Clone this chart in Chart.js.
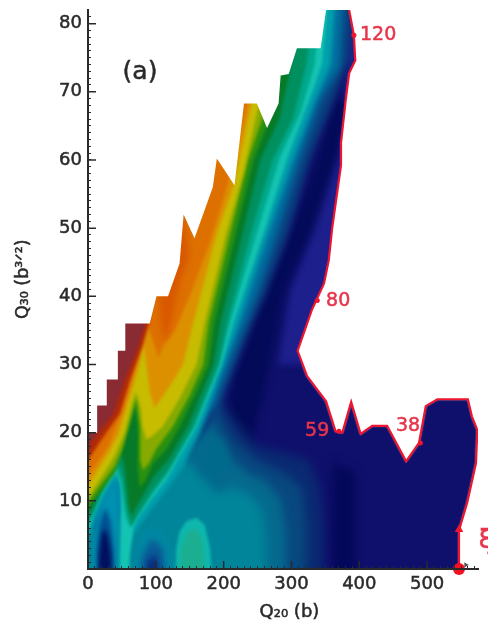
<!DOCTYPE html>
<html>
<head>
<meta charset="utf-8">
<style>
html, body { margin: 0; padding: 0; background: #fff; }
#wrap { width: 488px; height: 626px; }
canvas { filter: blur(0.6px); }
</style>
<script src="https://cdn.jsdelivr.net/npm/chart.js@4/dist/chart.umd.min.js"></script>
</head>
<body>
<div id="wrap"><canvas id="c" width="488" height="626"></canvas></div>
<script>
// tick labels
const xTickLabels = [0, 100, 200, 300, 400, 500];
const yTickLabels = [10, 20, 30, 40, 50, 60, 70, 80];

// edge of the calculated region as [Q20, Q30]
const boundaryLeft = [[0,20],[13.5,20],[13.5,24],[27.7,24],[27.7,27.8],[44,27.8],[44,32],[55,32],[55,36],[91,36],[101,40],[118,40],[135,44.8],[141,52],[157,48.5],[184,56],[190,60.2],[216,56.3],[230,68.3],[249,68.3],[264,64.7],[281,68.3],[284,72.4],[296,72.6],[308,76.4],[343,76.4],[351,82],[352,95]];
const boundaryRight = [[385,95],[385,82],[392,78.3],[394,74.6],[385,72.7],[380,68.8],[373,62.5],[373,59.2],[360,50],[355,45.3],[348,41.9],[330,38],[323,36],[309,32],[323,28.3],[351,24.6],[365,20.2],[375,20],[388,24.5],[402,19.8],[419,21],[441,21],[469,15.8],[488,18.5],[498,23.9],[515,24.9],[560,24.9],[566,22.4],[574,20.4],[572,15.5],[559,9.7],[547,5.7],[547,0]];

// low areas on the right
const blueWedge = [[280,30],[410,30],[410,90],[395,90],[372,62],[334,50],[298,41]];
const darkStrip = [[360,-5],[395,-5],[395,14],[360,16]];
const darkTrough = [[200,18],[235,16],[262,27],[288,40.5],[327,49.3],[366,60.4],[385,68.8],[365,68.8],[340,60.4],[299,49.3],[260,40.5],[215,28]];

// lower field, darkest first
const field1 = [[-10,-5],[345,-5],[347,6],[342,12],[325,16],[290,17],[250,18],[215,22],[190,26],[170,30],[-10,30]];
const field2 = [[-10,-5],[320,-5],[322,6],[315,12],[290,14],[250,16],[215,19],[190,24],[-10,30]];
const field3 = [[-10,-5],[290,-5],[292,5],[285,10],[260,13],[235,14],[214,16],[190,20],[170,26],[-10,30]];
const field4 = [[-10,-5],[262,-5],[262,5],[255,9],[235,11],[214,12],[190,11],[165,14],[-10,30]];
const fieldPatch = [[168,14],[185,13],[205,15],[200,19],[176,19]];

// contour levels, rising towards the upper left
const level1 = [[-10,5],[100,12],[190,22],[195,24],[218,30],[242,36],[262,40.5],[295,49.3],[328,60.4],[362,68.8],[386,75],[400,95],[-10,95]];
const level2 = [[-10,5],[100,11],[170,22],[186,24],[208,30],[232,36],[250,40.5],[279,49.3],[313,60.4],[343,68.8],[372,73.7],[382,95],[-10,95]];
const level3 = [[-10,4],[5,5],[10,7],[24,10],[38,12.5],[44,13],[47,11],[60,4],[70,5.5],[95,9],[115,11.5],[140,15],[165,20],[200,30],[222,36],[268,50],[302,60],[336,69],[358,74],[372,95],[-10,95]];
const level4 = [[-10,5.5],[3,6],[8,8],[22,11],[37,13.6],[44,14],[48,11.5],[47,7],[45,-5],[59,-5],[62,2],[67,6],[72,7.3],[95,10.5],[115,13],[160,20.9],[197,30],[214,36],[259,49.3],[294,60.4],[326,68.8],[345,74],[365,95],[-10,95]];
const level5 = [[-10,6.3],[3,6.8],[10,9],[27,12.5],[41,14.8],[48,13],[56,7.5],[63,6],[72,7.6],[95,11],[116,13.8],[157,20.9],[194,30],[209,36],[249,49.3],[283,60.4],[314,67],[334,74],[355,95],[-10,95]];
const level6 = [[-10,7],[4,7.5],[15,10],[32,14],[44,15.5],[52,13],[58,8.5],[64,6.3],[72,7.8],[95,11.5],[118,14.5],[155,20.9],[192,30],[205,36],[240,49.3],[272,60],[302,66],[322,74],[345,95],[-10,95]];
const level7 = [[-10,8],[4,8.5],[15,11],[35,15.5],[47,17.5],[54,15],[60,9.5],[64,7.7],[70,9],[85,11.5],[96,13.5],[118,16],[147,20.9],[185,30],[195,36],[228,49.3],[254,60],[282,66],[300,74],[330,95],[-10,95]];
const level8 = [[-10,8.8],[2,9.2],[20,11.5],[39,14],[48,16.5],[58,20],[66,22.8],[70,24],[74,20],[73,15],[76,12],[85,13],[96,15.5],[115,17.5],[135,20.9],[160,26],[178,30],[186,36],[218,49.3],[244,60],[268,66],[288,74],[320,95],[-10,95]];
const level9 = [[-10,9.5],[2,10],[20,12.5],[39,15],[50,17.5],[60,21],[68,24],[71,25],[77,21],[77,16],[81,14.5],[90,15.5],[100,17.5],[125,20.9],[150,25.5],[170,30],[178,36],[210,49.3],[236,60],[257,66],[278,74],[310,95],[-10,95]];
const level10 = [[-10,10],[2,10.8],[20,13.5],[39,16.5],[54,20],[64,24],[71,26],[78,23.5],[80,21],[86,19],[95,19.5],[110,20.9],[135,25],[160,30],[172,36],[204,49.3],[229,58],[247,66],[268,74],[300,95],[-10,95]];
const level11 = [[-10,12],[2,12.5],[30,17],[46,20],[54,22.8],[69,27.7],[76,30],[82,33],[86,30],[91,26],[98,23.6],[108,25],[125,27.5],[140,30],[155,36],[190,49.3],[214,56],[236,66],[255,74],[285,95],[-10,95]];
const level12 = [[-10,13],[0,13.6],[30,18],[50,22.8],[64,27.7],[78,32.6],[86,36],[94,34],[104,31],[112,33],[128,35],[150,40],[180,48],[205,56],[230,66],[250,74],[275,95],[-10,95]];
const level13 = [[-10,15],[0,16],[20,19],[47,22.8],[62,27.7],[80,32.6],[90,36],[96,40],[106,48],[-10,95]];
const level14 = [[-10,17],[0,18],[37,22.8],[54,27.7],[74,32.6],[84,36],[92,38],[100,41],[110,60],[-10,95]];
const pool1Outer = [[8,-5],[8,3],[14,7.5],[26,11],[36,12.5],[44,13],[47,9],[45,4],[43,-5]];
const pool1Middle = [[12,-5],[13,3],[18,7],[26,9],[33,7],[38,3],[40,-5]];
const pool1Inner = [[15,-5],[16,2],[20,5],[25,6],[30,4.5],[34,2],[35,-5]];
const pool2Outer = [[68,-5],[70,2],[78,5],[95,6.5],[112,5],[125,2],[128,-5]];
const pool2Middle = [[74,-5],[80,2],[95,4.5],[110,3],[120,-5]];
const pool2Inner = [[82,-5],[88,1.2],[100,2],[112,-5]];
const hillOuter = [[128,-5],[130,3],[135,5.5],[145,7],[160,7.5],[172,6.5],[180,3],[185,-5]];
const hillInner = [[135,-5],[137,3],[147,5.5],[160,6],[170,4],[174,-5]];
const orangeCore = [[104,40],[108,36],[113,33],[122,36],[135,42],[150,46],[140,52],[118,48]];

// red path points and their labels
const markerPoints = [[392,78.3],[338,39.4],[370,20.2],[490,18.5]];
const annotationText = ['120','80','59','38'];
const annotationX = [401,351,320,454];
const annotationY = [78.3,39.3,20.2,21];

function polygon(pts, color, blur) {
    return {
        data: pts.map(p => ({ x: p[0], y: p[1] })),
        fill: 'shape',
        backgroundColor: color,
        borderWidth: 0,
        pointRadius: 0,
        tension: 0,
        blur: blur || 0,
    };
}

function points(pts, color, radius, style, rotation) {
    return {
        data: pts.map(p => ({ x: p[0], y: p[1] })),
        showLine: false,
        fill: false,
        pointStyle: style,
        rotation: rotation,
        pointRadius: radius,
        pointBackgroundColor: color,
        pointBorderWidth: 0,
        clip: false,
    };
}

const datasets = [
    polygon(boundaryLeft.concat(boundaryRight, [[547,-5],[-5,-5],[-5,20]]), '#0f106c', 1),
    polygon(blueWedge, '#1d1f8c', 3),
    polygon(darkStrip, '#04085a', 5),
    polygon(darkTrough, '#030a58', 4),
    polygon(field1, '#0a2a72', 5),
    polygon(field2, '#08487f', 5),
    polygon(field3, '#056a8e', 5),
    polygon(field4, '#00859a', 5),
    polygon(fieldPatch, '#006a8c', 4),
    polygon(level1, '#0a4080', 3),
    polygon(level2, '#0070a0', 3),
    polygon(level3, '#00a0ac', 2),
    polygon(level4, '#14c4b2', 1.5),
    polygon(pool1Outer, '#0090b0', 2),
    polygon(pool1Middle, '#005090', 2),
    polygon(pool1Inner, '#00105f', 2),
    polygon(pool2Outer, '#0088a4', 3),
    polygon(pool2Middle, '#0a5a96', 3),
    polygon(pool2Inner, '#062a80', 3),
    polygon(hillOuter, '#0eb8ae', 1.5),
    polygon(hillInner, '#1cae90', 2),
    polygon(level5, '#00a88c', 1.5),
    polygon(level6, '#009060', 1.5),
    polygon(level7, '#067a28', 1.5),
    polygon(level8, '#2a9010', 1.5),
    polygon(level9, '#86aa00', 1.5),
    polygon(level10, '#c8bc00', 1.5),
    polygon(level11, '#dc9000', 1.5),
    polygon(level12, '#de7000', 1.5),
    polygon(orangeCore, '#d85800', 3),
    polygon(level13, '#b02a08', 1.5),
    polygon(level14, '#8a2a33', 1),
    // white covers outside the region, then the red path
    polygon(boundaryLeft.concat([[-20,95],[-20,20]]), '#ffffff'),
    polygon(boundaryRight.concat([[547,-5],[600,-5],[600,95]]), '#ffffff'),
    { data: boundaryRight.map(p => ({ x: p[0], y: p[1] })), fill: false, borderColor: '#ee1530', borderWidth: 2.2, pointRadius: 0, tension: 0 },
    points(markerPoints, '#ee1530', 2.5, 'circle', 0),
    points([[547,5.8]], '#ee1530', 5, 'triangle', 0),
    points([[557,0.6]], '#555555', 3, 'triangle', 90),
    points([[547,0]], '#f01020', 6, 'circle', 0),
];
datasets.forEach((d, i) => { d.order = datasets.length - i; });

function setBlur(chart, i) {
    const d = chart.data.datasets[i];
    chart.ctx.filter = d && d.blur ? `blur(${d.blur}px)` : 'none';
}

function heavyText(ctx, text, x, y) {
    ctx.fillText(text, x, y);
    ctx.strokeText(text, x, y);
}

const contourLook = {
    id: 'contourLook',
    beforeDatasetsDraw(chart) {
        setBlur(chart, 0);
    },
    afterDatasetDraw(chart, args) {
        // the filler paints ahead of this plugin, so set up the next dataset here
        setBlur(chart, args.index + 1);
    },
    afterDatasetsDraw(chart) {
        chart.ctx.filter = 'none';
    },
    afterDraw(chart) {
        const ctx = chart.ctx;
        const xs = chart.scales.x;
        const ys = chart.scales.y;
        ctx.save();
        // major ticks point inwards
        ctx.strokeStyle = '#2a2a2a';
        ctx.lineWidth = 1.5;
        ctx.beginPath();
        yTickLabels.forEach(v => {
            const py = ys.getPixelForValue(v);
            ctx.moveTo(xs.left, py);
            ctx.lineTo(xs.left + 8, py);
        });
        xTickLabels.forEach(v => {
            const px = xs.getPixelForValue(v);
            ctx.moveTo(px, ys.bottom);
            ctx.lineTo(px, ys.bottom - 8);
        });
        ctx.stroke();

        ctx.textAlign = 'left';
        ctx.textBaseline = 'middle';
        ctx.lineWidth = 0.5;
        ctx.fillStyle = '#e8344a';
        ctx.strokeStyle = '#e8344a';
        ctx.font = '19px "DejaVu Sans"';
        annotationText.forEach((t, i) => {
            heavyText(ctx, t, xs.getPixelForValue(annotationX[i]), ys.getPixelForValue(annotationY[i]));
        });
        ctx.font = '26px "DejaVu Sans"';
        heavyText(ctx, 'ξ', xs.getPixelForValue(576), ys.getPixelForValue(4));
        ctx.fillStyle = '#2a2a2a';
        ctx.strokeStyle = '#2a2a2a';
        ctx.font = '25px "DejaVu Sans"';
        heavyText(ctx, '(a)', xs.getPixelForValue(51), ys.getPixelForValue(72.9));

        // axis titles
        ctx.textAlign = 'center';
        ctx.font = '18px "DejaVu Sans"';
        heavyText(ctx, 'Q₂₀ (b)', xs.getPixelForValue(297), ys.bottom + 43);
        ctx.translate(23, ys.getPixelForValue(42.5));
        ctx.rotate(-Math.PI / 2);
        ctx.font = '17.5px "DejaVu Sans"';
        heavyText(ctx, 'Q₃₀ (b³ᐟ²)', 0, 0);
        ctx.restore();
    },
};

new Chart(document.getElementById('c'), {
    type: 'line',
    data: { datasets: datasets },
    plugins: [contourLook],
    options: {
        responsive: false,
        animation: false,
        layout: { padding: { top: 10, right: 10, bottom: 0, left: 0 } },
        plugins: { legend: { display: false }, tooltip: { enabled: false } },
        scales: {
            x: {
                type: 'linear',
                min: 0,
                max: 575,
                afterFit(scale) {
                    scale.height = 57;
                    scale.paddingLeft = 0;
                    scale.paddingRight = 0;
                },
                afterBuildTicks(scale) {
                    const t = [];
                    for (let v = 0; v <= 570; v += 10) t.push({ value: v });
                    scale.ticks = t;
                },
                border: { color: '#2a2a2a', width: 2, z: 1 },
                grid: { drawOnChartArea: false, drawTicks: true, tickLength: -3, tickColor: '#2a2a2a', z: 1 },
                ticks: {
                    autoSkip: false,
                    maxRotation: 0,
                    padding: 8,
                    color: '#2a2a2a',
                    textStrokeColor: '#2a2a2a',
                    textStrokeWidth: 0.5,
                    font: { family: '"DejaVu Sans"', size: 18 },
                    callback: v => (xTickLabels.includes(v) ? String(v) : ''),
                },
            },
            y: {
                type: 'linear',
                min: 0,
                max: 82,
                afterFit(scale) {
                    // tick padding would otherwise push the plot down from the top
                    scale.width = 88;
                    scale.paddingTop = 0;
                    scale.paddingBottom = 0;
                },
                afterBuildTicks(scale) {
                    const t = [];
                    for (let v = 0; v <= 81; v += 1) t.push({ value: v });
                    scale.ticks = t;
                },
                border: { color: '#2a2a2a', width: 2, z: 1 },
                grid: { drawOnChartArea: false, drawTicks: true, tickLength: -3, tickColor: '#2a2a2a', z: 1 },
                ticks: {
                    autoSkip: false,
                    padding: 9,
                    color: '#2a2a2a',
                    textStrokeColor: '#2a2a2a',
                    textStrokeWidth: 0.5,
                    font: { family: '"DejaVu Sans"', size: 18 },
                    callback: v => (yTickLabels.includes(v) ? String(v) : ''),
                },
            },
        },
    },
});
</script>
</body>
</html>
